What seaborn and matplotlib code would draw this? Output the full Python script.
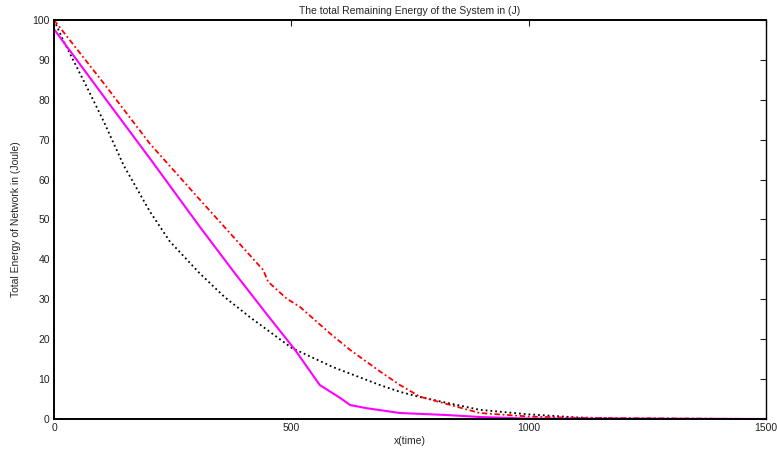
import seaborn as sns
import pandas as pd
import matplotlib
matplotlib.use('Agg')
import matplotlib.pyplot as plt

# valores (tempo, energia restante)
black_t = [0, 21, 70, 105, 147, 202, 244, 307, 360, 413, 501, 588, 687, 729, 771, 897, 996, 1100, 1200, 1500]
black_e = [100, 94.5, 83, 74.5, 63.5, 52, 44.5, 36.5, 30.5, 25.5, 17.8, 13, 8.5, 6.8, 5.5, 2.3, 1.2, 0.4, 0.1, 0]

red_t = [0, 105, 202, 307, 441, 451, 490, 518, 581, 624, 687, 729, 771, 897, 1003, 1100, 1350, 1500]
red_e = [100, 84.1, 69, 55, 37.3, 34.4, 30.2, 28.1, 21.5, 17.3, 11.9, 8.5, 5.6, 1.5, 0.6, 0.3, 0.1, 0]

mag_t = [0, 105, 202, 307, 378, 448, 508, 560, 600, 624, 659, 729, 827, 897, 1000, 1500]
mag_e = [97.7, 80.8, 65.3, 48.2, 37.0, 26.3, 17.3, 8.5, 5.5, 3.5, 2.7, 1.5, 1.0, 0.5, 0.1, 0]

x_ticks = [0, 500, 1000, 1500]
y_ticks = list(range(0, 101, 10))

sns.set_style('white')
plt.rcParams['font.family'] = ['Liberation Sans', 'DejaVu Sans']

df_black = pd.DataFrame({'t': black_t, 'e': black_e})
df_red = pd.DataFrame({'t': red_t, 'e': red_e})
df_mag = pd.DataFrame({'t': mag_t, 'e': mag_e})

fig = plt.figure(figsize=(7.77, 4.5), dpi=100)
ax = fig.add_axes([0.0695, 0.0689, 0.9163, 0.8867])

sns.lineplot(data=df_black, x='t', y='e', ax=ax, color='black', linestyle=':', linewidth=1.3)
sns.lineplot(data=df_red, x='t', y='e', ax=ax, color='red', linestyle=(0, (3, 1.5, 1, 1.5)), linewidth=1.3)
sns.lineplot(data=df_mag, x='t', y='e', ax=ax, color='magenta', linewidth=1.5)

ax.set_xlim(0, 1500)
ax.set_ylim(0, 100)
ax.set_xticks(x_ticks)
ax.set_yticks(y_ticks)
ax.tick_params(direction='in', top=True, right=True, length=4, width=0.8,
               labelsize=7.5, colors='#222222', pad=3)
for side in ['left', 'bottom', 'top']:
    ax.spines[side].set_linewidth(1.4)
    ax.spines[side].set_color('black')
ax.spines['right'].set_linewidth(1.0)
ax.spines['right'].set_color('black')

ax.set_title('The total Remaining Energy of the System in (J)', fontsize=7.5, pad=4)
ax.set_xlabel('x(time)', fontsize=7.5, labelpad=2)
ax.set_ylabel('Total Energy of Network in (Joule)', fontsize=7.5, labelpad=8)

fig.savefig('out.png', dpi=100)
